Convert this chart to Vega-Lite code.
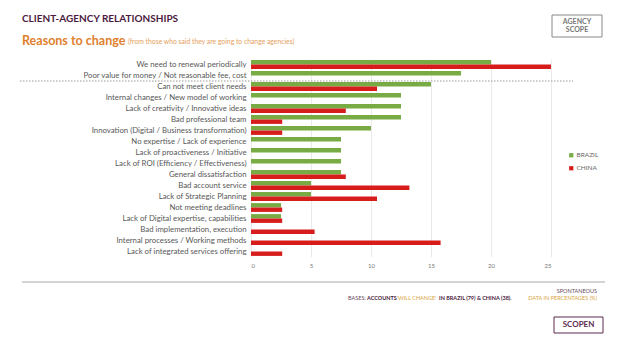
{
  "$schema": "https://vega.github.io/schema/vega-lite/v6.json",
  "autosize": "none",
  "width": 300,
  "height": 198,
  "padding": {"left": 251, "top": 59, "right": 74, "bottom": 94},
  "background": "white",
  "config": {
    "view": {"stroke": null},
    "font": "Lato"
  },
  "layer": [
    {
      "data": {"values": [
        {"reason": "We need to renewal periodically", "series": "BRAZIL", "value": 20},
        {"reason": "We need to renewal periodically", "series": "CHINA", "value": 25},
        {"reason": "Poor value for money / Not reasonable fee, cost", "series": "BRAZIL", "value": 17.5},
        {"reason": "Can not meet client needs", "series": "BRAZIL", "value": 15},
        {"reason": "Can not meet client needs", "series": "CHINA", "value": 10.5},
        {"reason": "Internal changes / New model of working", "series": "BRAZIL", "value": 12.5},
        {"reason": "Lack of creativity / Innovative ideas", "series": "BRAZIL", "value": 12.5},
        {"reason": "Lack of creativity / Innovative ideas", "series": "CHINA", "value": 7.9},
        {"reason": "Bad professional team", "series": "BRAZIL", "value": 12.5},
        {"reason": "Bad professional team", "series": "CHINA", "value": 2.6},
        {"reason": "Innovation (Digital / Business transformation)", "series": "BRAZIL", "value": 10},
        {"reason": "Innovation (Digital / Business transformation)", "series": "CHINA", "value": 2.6},
        {"reason": "No expertise / Lack of experience", "series": "BRAZIL", "value": 7.5},
        {"reason": "Lack of proactiveness / Initiative", "series": "BRAZIL", "value": 7.5},
        {"reason": "Lack of ROI (Efficiency / Effectiveness)", "series": "BRAZIL", "value": 7.5},
        {"reason": "General dissatisfaction", "series": "BRAZIL", "value": 7.5},
        {"reason": "General dissatisfaction", "series": "CHINA", "value": 7.9},
        {"reason": "Bad account service", "series": "BRAZIL", "value": 5},
        {"reason": "Bad account service", "series": "CHINA", "value": 13.2},
        {"reason": "Lack of Strategic Planning", "series": "BRAZIL", "value": 5},
        {"reason": "Lack of Strategic Planning", "series": "CHINA", "value": 10.5},
        {"reason": "Not meeting deadlines", "series": "BRAZIL", "value": 2.5},
        {"reason": "Not meeting deadlines", "series": "CHINA", "value": 2.6},
        {"reason": "Lack of Digital expertise, capabilities", "series": "BRAZIL", "value": 2.5},
        {"reason": "Lack of Digital expertise, capabilities", "series": "CHINA", "value": 2.6},
        {"reason": "Bad implementation, execution", "series": "CHINA", "value": 5.3},
        {"reason": "Internal processes / Working methods", "series": "CHINA", "value": 15.8},
        {"reason": "Lack of integrated services offering", "series": "CHINA", "value": 2.6}
      ]},
      "mark": {"type": "bar"},
      "encoding": {
        "y": {
          "field": "reason", "type": "nominal", "sort": null,
          "scale": {"paddingInner": 0.2, "paddingOuter": 0.1},
          "axis": {"title": null, "domain": false, "ticks": false, "labelPadding": 5, "labelFontSize": 7.8, "labelColor": "#585858", "labelLimit": 250}
        },
        "yOffset": {"field": "series", "type": "nominal", "scale": {"domain": ["BRAZIL", "CHINA"], "paddingInner": 0, "paddingOuter": 0}},
        "x": {
          "field": "value", "type": "quantitative",
          "scale": {"domain": [0, 25], "nice": false},
          "axis": {"title": null, "values": [0, 5, 10, 15, 20, 25], "domain": false, "ticks": false, "labelFontSize": 6, "labelColor": "#777777", "labelPadding": 5, "gridColor": "#e4e4e4", "gridWidth": 0.8}
        },
        "color": {
          "field": "series", "type": "nominal",
          "scale": {"domain": ["BRAZIL", "CHINA"], "range": ["#78ab44", "#d71c1c"]},
          "legend": {"title": null, "orient": "none", "legendX": 317, "legendY": 93, "symbolType": "square", "symbolSize": 18, "labelFontSize": 6.5, "labelColor": "#666666", "rowPadding": 6, "labelOffset": 2}
        }
      }
    },
    {
      "data": {"values": [{}]},
      "mark": {"type": "rule", "color": "#999999", "strokeDash": [1.5, 1.5], "strokeWidth": 1},
      "encoding": {"x": {"value": -231}, "x2": {"value": 322}, "y": {"value": 22}}
    },
    {
      "data": {"values": [{}]},
      "mark": {"type": "rule", "color": "#aaaaaa", "strokeWidth": 1.2},
      "encoding": {"x": {"value": -229}, "x2": {"value": 354}, "y": {"value": 223}}
    },
    {
      "data": {"values": [{}]},
      "mark": {"type": "text", "text": "CLIENT-AGENCY RELATIONSHIPS", "align": "left", "baseline": "middle", "fontSize": 10, "fontWeight": "bold", "color": "#4b1a40", "font": "Lato"},
      "encoding": {"x": {"value": -229}, "y": {"value": -40}}
    },
    {
      "data": {"values": [{}]},
      "mark": {"type": "text", "text": "Reasons to change", "align": "left", "baseline": "middle", "fontSize": 12.5, "fontWeight": "bold", "color": "#e07f2d", "font": "Lato"},
      "encoding": {"x": {"value": -229}, "y": {"value": -18}}
    },
    {
      "data": {"values": [{}]},
      "mark": {"type": "text", "text": "(from those who said they are going to change agencies)", "align": "left", "baseline": "middle", "fontSize": 6.8, "color": "#e5a060", "font": "Lato"},
      "encoding": {"x": {"value": -123}, "y": {"value": -17}}
    },
    {
      "data": {"values": [{}]},
      "mark": {"type": "rect", "fill": null, "stroke": "#888888", "strokeWidth": 1},
      "encoding": {"x": {"value": 301}, "x2": {"value": 351}, "y": {"value": -44}, "y2": {"value": -22}}
    },
    {
      "data": {"values": [{}]},
      "mark": {"type": "text", "text": ["AGENCY", "SCOPE"], "align": "center", "baseline": "middle", "fontSize": 7, "fontWeight": "bold", "color": "#777777", "lineHeight": 8},
      "encoding": {"x": {"value": 326}, "y": {"value": -37}}
    },
    {
      "data": {"values": [{}]},
      "mark": {"type": "rect", "fill": null, "stroke": "#5a2a4e", "strokeWidth": 1},
      "encoding": {"x": {"value": 303}, "x2": {"value": 352}, "y": {"value": 258}, "y2": {"value": 274}}
    },
    {
      "data": {"values": [{}]},
      "mark": {"type": "text", "text": "SCOPEN", "align": "center", "baseline": "middle", "fontSize": 8, "fontWeight": "bold", "color": "#5a2a4e"},
      "encoding": {"x": {"value": 327.5}, "y": {"value": 266}}
    },
    {
      "data": {"values": [{}]},
      "mark": {"type": "text", "text": "SPONTANEOUS", "align": "right", "baseline": "middle", "fontSize": 5.5, "color": "#6a4a60"},
      "encoding": {"x": {"value": 346}, "y": {"value": 232}}
    },
    {
      "data": {"values": [{}]},
      "mark": {"type": "text", "text": "BASES:", "align": "left", "baseline": "middle", "fontSize": 5.5, "color": "#6a4a60"},
      "encoding": {"x": {"value": 97}, "y": {"value": 239}}
    },
    {
      "data": {"values": [{}]},
      "mark": {"type": "text", "text": "ACCOUNTS", "align": "left", "baseline": "middle", "fontSize": 5.5, "fontWeight": "bold", "color": "#4b1a40"},
      "encoding": {"x": {"value": 116}, "y": {"value": 239}}
    },
    {
      "data": {"values": [{}]},
      "mark": {"type": "text", "text": "'WILL CHANGE'", "align": "left", "baseline": "middle", "fontSize": 5.5, "color": "#d9a441"},
      "encoding": {"x": {"value": 146}, "y": {"value": 239}}
    },
    {
      "data": {"values": [{}]},
      "mark": {"type": "text", "text": "IN BRAZIL (79) & CHINA (38).", "align": "left", "baseline": "middle", "fontSize": 5.5, "fontWeight": "bold", "color": "#4b1a40"},
      "encoding": {"x": {"value": 188}, "y": {"value": 239}}
    },
    {
      "data": {"values": [{}]},
      "mark": {"type": "text", "text": "DATA IN PERCENTAGES (%)", "align": "right", "baseline": "middle", "fontSize": 5.5, "color": "#d9a441"},
      "encoding": {"x": {"value": 346}, "y": {"value": 239}}
    }
  ]
}
